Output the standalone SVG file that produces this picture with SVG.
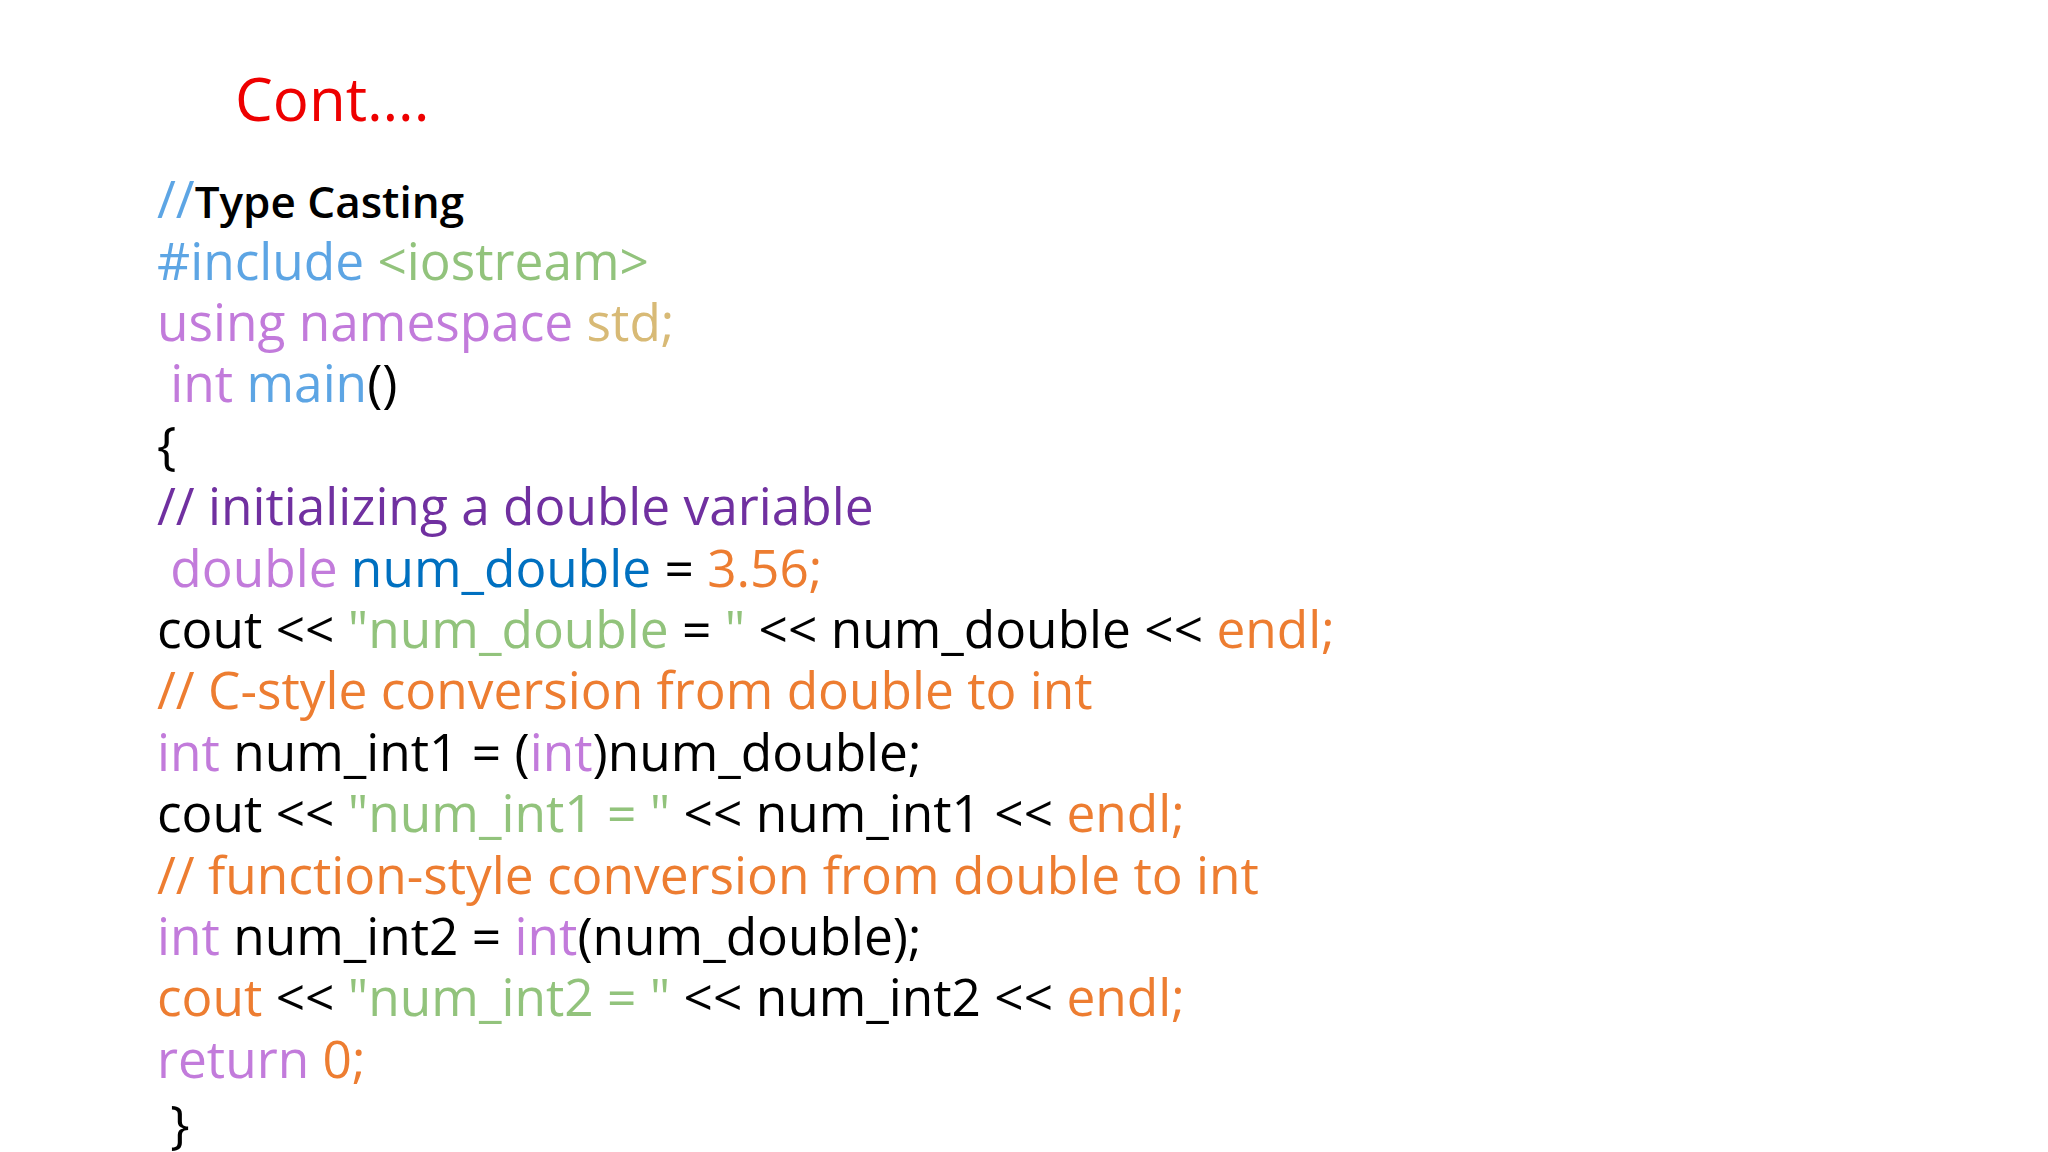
<svg xmlns="http://www.w3.org/2000/svg" width="2048" height="1152" viewBox="0 0 2048 1152">
<style>
text{font-family:"Open Sans","Noto Sans",sans-serif;font-size:51.4px;fill:#000;white-space:pre}
.b{fill:#5DA5E4}.g{fill:#92C37C}.p{fill:#C27BDB}.t{fill:#D8BA76}.dp{fill:#7030A0}.db{fill:#0070C0}.o{fill:#ED7D31}
</style>
<rect width="2048" height="1152" fill="#fff"/>
<g id="title"><text x="235" y="121" style="font-size:60px;fill:#EE0000">Cont….</text></g>
<g id="code" xml:space="preserve">
<text x="157" y="218"><tspan class="b">//</tspan><tspan font-weight="600" style="font-size:44px">Type Casting</tspan></text>
<text x="157" y="279.6"><tspan class="b">#include </tspan><tspan class="g">&lt;iostream&gt;</tspan></text>
<text x="157" y="341"><tspan class="p">using namespace </tspan><tspan class="t">std;</tspan></text>
<text x="157" y="402.3"><tspan class="p"> int </tspan><tspan class="b">main</tspan>()</text>
<text x="157" y="463.7">{</text>
<text x="157" y="525" class="dp">// initializing a double variable</text>
<text x="157" y="586.5"><tspan class="p"> double </tspan><tspan class="db">num_double</tspan> = <tspan class="o">3.56;</tspan></text>
<text x="157" y="648">cout &lt;&lt; <tspan class="g">"num_double</tspan> = <tspan class="g">"</tspan> &lt;&lt; num_double &lt;&lt; <tspan class="o">endl;</tspan></text>
<text x="157" y="709.3" class="o">// C-style conversion from double to int</text>
<text x="157" y="770.7"><tspan class="p">int</tspan> num_int1 = (<tspan class="p">int</tspan>)num_double;</text>
<text x="157" y="832">cout &lt;&lt; <tspan class="g">"num_int1 = "</tspan> &lt;&lt; num_int1 &lt;&lt; <tspan class="o">endl;</tspan></text>
<text x="157" y="893.5" class="o">// function-style conversion from double to int</text>
<text x="157" y="955"><tspan class="p">int</tspan> num_int2 = <tspan class="p">int</tspan>(num_double);</text>
<text x="157" y="1016"><tspan class="o">cout</tspan> &lt;&lt; <tspan class="g">"num_int2 = "</tspan> &lt;&lt; num_int2 &lt;&lt; <tspan class="o">endl;</tspan></text>
<text x="157" y="1077.6"><tspan class="p">return </tspan><tspan class="o">0;</tspan></text>
<text x="157" y="1143"> }</text>
</g>
</svg>
